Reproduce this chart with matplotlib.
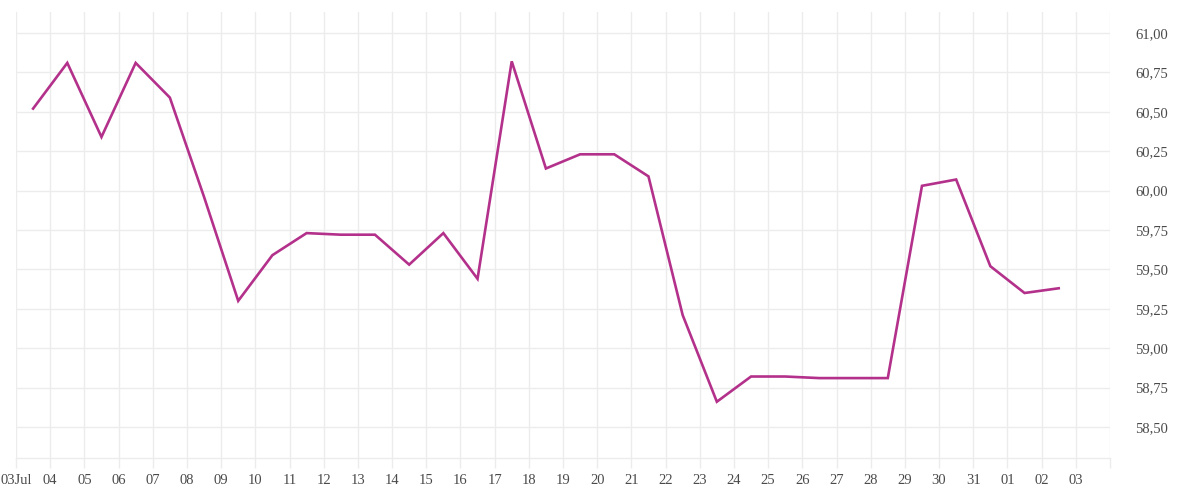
import datetime as dt
import matplotlib
matplotlib.use("Agg")
import matplotlib.pyplot as plt
import matplotlib.dates as mdates
from matplotlib.ticker import FuncFormatter, FixedLocator

# ---- data ----
start_date = dt.datetime(2023, 7, 3, 12)
values = [60.52, 60.81, 60.34, 60.81, 60.59, 59.96, 59.30, 59.59, 59.73, 59.72,
          59.72, 59.53, 59.73, 59.44, 60.82, 60.14, 60.23, 60.23, 60.09, 59.21,
          58.66, 58.82, 58.82, 58.81, 58.81, 58.81, 60.03, 60.07, 59.52, 59.35,
          59.38]
dates = [start_date + dt.timedelta(days=i) for i in range(len(values))]
y_ticks = [58.50, 58.75, 59.00, 59.25, 59.50, 59.75, 60.00, 60.25, 60.50, 60.75, 61.00]

# ---- style ----
grid_c = "#ececec"
line_c = "#b3318b"
text_c = "#4a4a4a"
plt.rcParams['font.family'] = ['Liberation Serif', 'DejaVu Serif']

fig = plt.figure(figsize=(12, 5), dpi=100)
ax = fig.add_axes([16/1200, 42/500, (1110-16)/1200, (458-12)/500])

ax.plot(dates, values, color=line_c, lw=1.9, solid_joinstyle='miter', zorder=3)

x0 = dt.datetime(2023, 7, 3)
x1 = dt.datetime(2023, 8, 4)
ax.set_xlim(x0, x1)
ax.set_ylim(58.303, 61.133)

tick_dates = [x0 + dt.timedelta(days=i) for i in range(33)]
ax.xaxis.set_major_locator(FixedLocator(mdates.date2num(tick_dates)))
labels = []
for i, d in enumerate(tick_dates):
    if i == 0:
        labels.append(d.strftime("%d%b"))
    elif i == len(tick_dates) - 1:
        labels.append("")
    else:
        labels.append(d.strftime("%d"))
ax.set_xticklabels(labels)

ax.set_yticks(y_ticks)
ax.yaxis.set_major_formatter(FuncFormatter(lambda v, p: f"{v:.2f}".replace('.', ',')))
ax.yaxis.tick_right()

ax.grid(True, color=grid_c, lw=1, zorder=0)
for s in ['top', 'left', 'right']:
    ax.spines[s].set_visible(False)
ax.spines['bottom'].set_color(grid_c)
ax.spines['bottom'].set_linewidth(1)

ax.tick_params(axis='x', length=7.5, width=1, color=grid_c, labelsize=10.5,
               labelcolor=text_c, pad=4)
ax.tick_params(axis='y', length=0, labelsize=10.5, labelcolor=text_c, pad=18)

fig.savefig("out.png", dpi=100, facecolor="white")
